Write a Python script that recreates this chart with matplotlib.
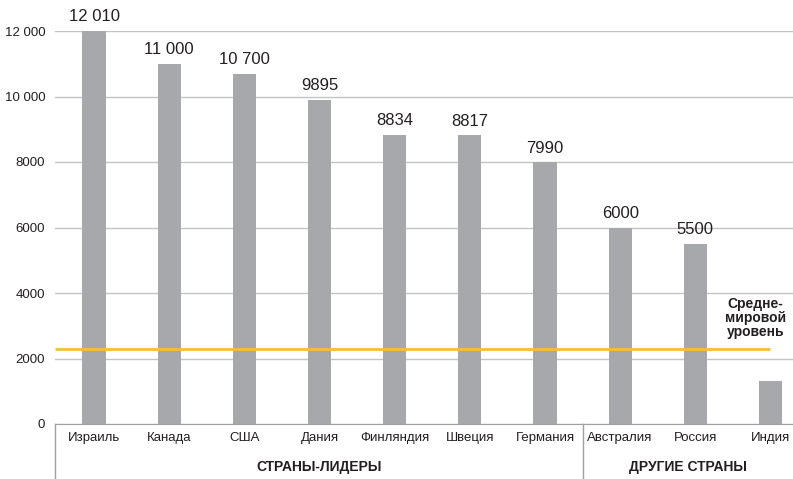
import matplotlib.pyplot as plt
import matplotlib.transforms as mtransforms
from matplotlib import font_manager

# pick a narrow font if available
names = {f.name for f in font_manager.fontManager.ttflist}
if 'Liberation Sans Narrow' in names:
    plt.rcParams['font.family'] = ['Liberation Sans Narrow', 'DejaVu Sans']
else:
    plt.rcParams['font.family'] = ['Liberation Sans', 'DejaVu Sans']

countries = ['Израиль', 'Канада', 'США', 'Дания', 'Финляндия', 'Швеция',
             'Германия', 'Австралия', 'Россия', 'Индия']
values = [12010, 11000, 10700, 9895, 8834, 8817, 7990, 6000, 5500, 1300]
value_labels = ['12 010', '11 000', '10 700', '9895', '8834', '8817', '7990',
                '6000', '5500', '']
yticks = [0, 2000, 4000, 6000, 8000, 10000, 12000]
ytick_labels = ['0', '2000', '4000', '6000', '8000', '10 000', '12 000']
world_avg = 2300
groups = ['СТРАНЫ-ЛИДЕРЫ', 'ДРУГИЕ СТРАНЫ']
n_leaders = 7

txt = '#231f20'
fig = plt.figure(figsize=(7.93, 4.79), dpi=100)
ax = fig.add_axes([55 / 793, 1 - 424 / 479, 1 - 55 / 793, (424 - 31) / 479])

x = list(range(len(countries)))
ax.bar(x, values, width=0.31, color='#a7a8ab', zorder=2, clip_on=False)
for xi, v, lab in zip(x, values, value_labels):
    if lab:
        ax.text(xi, v + 200, lab, ha='center', va='bottom', fontsize=12, color=txt)

ax.plot([-0.52, 9], [world_avg, world_avg], color='#f2c037', lw=2, zorder=3,
        solid_capstyle='butt')
ax.text(8.8, 3250, 'Средне-\nмировой\nуровень', ha='center', va='center',
        fontsize=10, fontweight='bold', color=txt, linespacing=1.0)

ax.set_xlim(-0.52, 9.3)
ax.set_ylim(0, 12000)
ax.set_yticks(yticks)
ax.set_yticklabels(ytick_labels, fontsize=9.5, color=txt)
ax.set_xticks(x)
ax.set_xticklabels(countries, fontsize=9.5, color=txt)
ax.tick_params(axis='both', length=0)
ax.tick_params(axis='x', pad=6)
ax.tick_params(axis='y', pad=7)
ax.grid(axis='y', color='#c3c3c3', lw=1, zorder=0)
for s in ['top', 'right', 'left']:
    ax.spines[s].set_visible(False)
ax.spines['bottom'].set_color('#a0a0a0')

# group separators and labels below the axis
trans = mtransforms.blended_transform_factory(ax.transData, fig.transFigure)
for xs in [-0.52, n_leaders - 0.5]:
    ax.plot([xs, xs], [1 - 424 / 479, 0], color='#a0a0a0', lw=1,
            transform=trans, clip_on=False)
ax.text((-0.52 + n_leaders - 0.5) / 2, 12 / 479, groups[0], transform=trans,
        ha='center', va='center', fontsize=10, fontweight='bold', color=txt)
ax.text((n_leaders - 0.5 + 9.3) / 2, 12 / 479, groups[1], transform=trans,
        ha='center', va='center', fontsize=10, fontweight='bold', color=txt)

fig.savefig('out.png', dpi=100)
